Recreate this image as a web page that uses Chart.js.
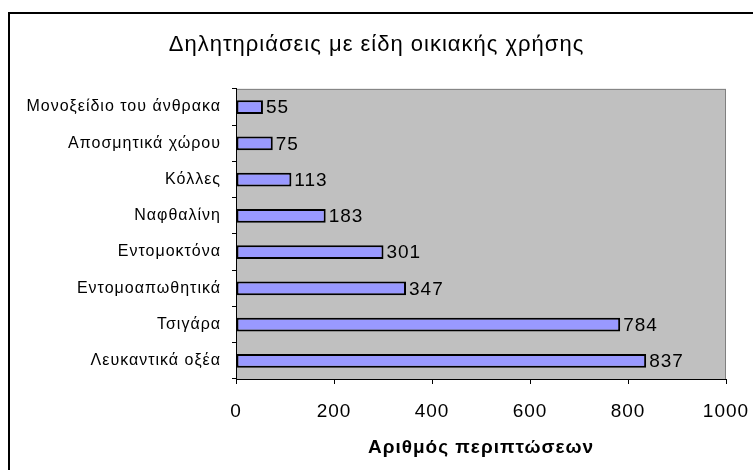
<!DOCTYPE html>
<html>
<head>
<meta charset="utf-8">
<script src="https://cdn.jsdelivr.net/npm/chart.js@4/dist/chart.umd.min.js"></script>
<style>
  html, body { margin: 0; padding: 0; background: #fff; }
  #wrap { width: 753px; height: 470px; position: relative; }
</style>
</head>
<body>
<div id="wrap"><canvas id="poisonChart"></canvas></div>
<script>
// Κατηγορίες και αριθμός περιπτώσεων
const categories = ['Μονοξείδιο του άνθρακα', 'Αποσμητικά χώρου', 'Κόλλες', 'Ναφθαλίνη',
    'Εντομοκτόνα', 'Εντομοαπωθητικά', 'Τσιγάρα', 'Λευκαντικά οξέα'];
const cases = [55, 75, 113, 183, 301, 347, 784, 837];
const xTicks = [0, 200, 400, 600, 800, 1000];

const FONT = '"Liberation Sans", Arial, sans-serif';

// Γκρι φόντο περιοχής σχεδίασης και περίγραμμα γραφήματος
const plotBackground = {
    id: 'plotBackground',
    beforeDraw(chart) {
        const { ctx, chartArea: a } = chart;
        ctx.save();
        ctx.strokeStyle = '#000';
        ctx.lineWidth = 2;
        ctx.strokeRect(9, 13, 1000, 1000);
        ctx.fillStyle = '#c0c0c0';
        ctx.fillRect(a.left, a.top, a.right - a.left, a.bottom - a.top);
        ctx.strokeStyle = '#808080';
        ctx.lineWidth = 1;
        ctx.strokeRect(a.left + 0.5, a.top + 0.5, a.right - a.left - 1, a.bottom - a.top);
        ctx.restore();
        // αραιό κείμενο σε όλο το γράφημα
        ctx.letterSpacing = '1px';
    }
};

// Τιμές δίπλα σε κάθε μπάρα
const valueLabels = {
    id: 'valueLabels',
    afterDatasetsDraw(chart) {
        const { ctx } = chart;
        const meta = chart.getDatasetMeta(0);
        ctx.save();
        ctx.font = '19px ' + FONT;
        ctx.fillStyle = '#000';
        ctx.textAlign = 'left';
        ctx.textBaseline = 'middle';
        meta.data.forEach((bar, i) => {
            ctx.fillText(String(cases[i]), bar.x + 3, bar.y + 1);
        });
        ctx.restore();
    }
};

const config = {
    type: 'bar',
    data: {
        labels: categories,
        datasets: [{
            data: cases,
            backgroundColor: '#9999ff',
            borderColor: '#000',
            borderWidth: 2,
            borderSkipped: false,
            categoryPercentage: 1,
            barPercentage: 0.38
        }]
    },
    options: {
        indexAxis: 'y',
        responsive: true,
        maintainAspectRatio: false,
        animation: false,
        layout: { padding: 0 },
        plugins: {
            legend: { display: false },
            tooltip: { enabled: false },
            title: {
                display: true,
                text: 'Δηλητηριάσεις με είδη οικιακής χρήσης',
                color: '#000',
                font: { family: FONT, size: 22, weight: 'normal' },
                padding: { top: 32, bottom: 30.5 }
            }
        },
        scales: {
            y: {
                grid: {
                    drawOnChartArea: false,
                    color: '#000',
                    tickLength: 4,
                    offset: true
                },
                border: { display: true, color: '#000', width: 1 },
                ticks: {
                    color: '#000',
                    padding: 11,
                    font: { family: FONT, size: 16 }
                },
                afterFit(scale) {
                    scale.width = 236;
                    scale.paddingTop = 0;
                    scale.paddingBottom = 0;
                }
            },
            x: {
                min: 0,
                max: 1000,
                afterBuildTicks(scale) {
                    scale.ticks = xTicks.map(v => ({ value: v }));
                },
                grid: {
                    drawOnChartArea: false,
                    color: '#000',
                    tickLength: 5
                },
                border: { display: true, color: '#000', width: 1 },
                ticks: {
                    color: '#000',
                    padding: 16,
                    maxRotation: 0,
                    font: { family: FONT, size: 19 },
                    callback: v => String(v)
                },
                title: {
                    display: true,
                    text: 'Αριθμός περιπτώσεων',
                    color: '#000',
                    font: { family: FONT, size: 19, weight: 'bold' },
                    padding: { top: 0, bottom: 11 }
                },
                afterFit(scale) {
                    scale.height = 91;
                    scale.paddingLeft = 0;
                    scale.paddingRight = 27;
                }
            }
        }
    },
    plugins: [plotBackground, valueLabels]
};

const poisonChart = new Chart(document.getElementById('poisonChart'), config);
</script>
</body>
</html>
